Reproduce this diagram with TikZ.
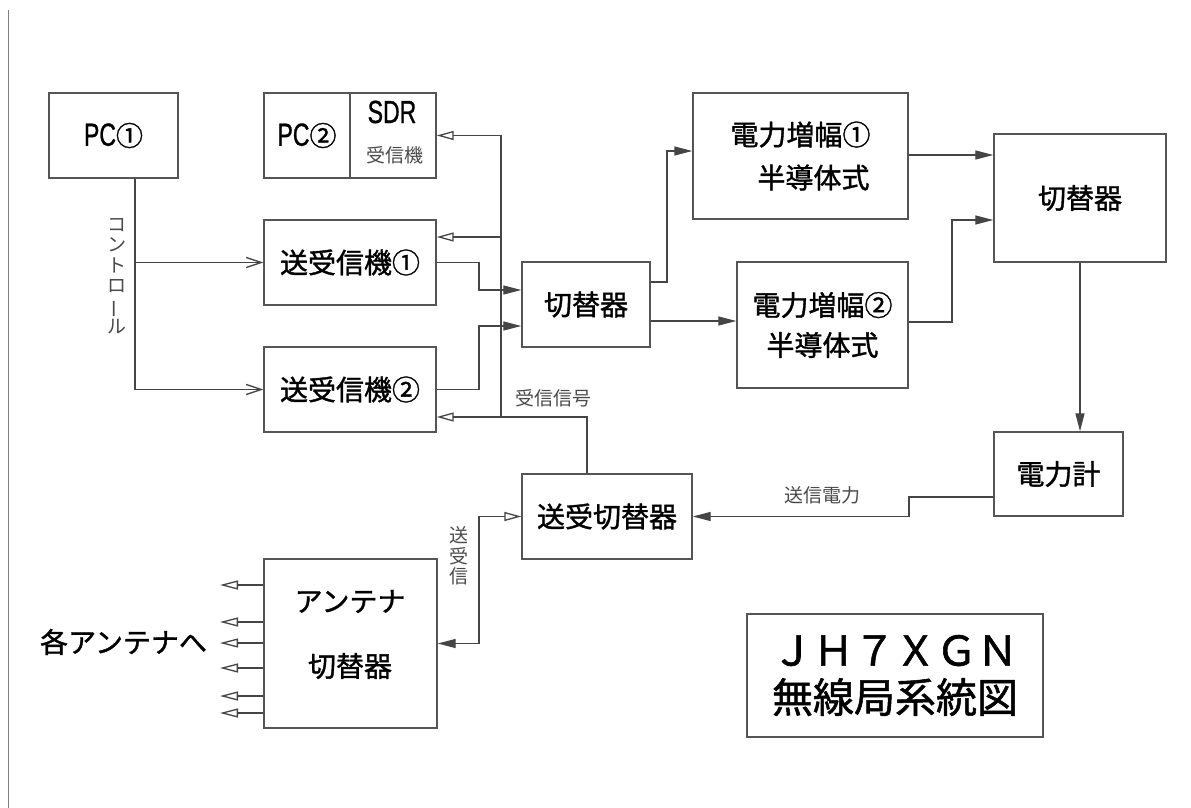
\documentclass[tikz,border=0pt]{standalone}
\usepackage{fontspec}
\setmainfont{Noto Sans CJK JP}
\newfontfamily\jpb[FakeBold=1.3]{Noto Sans CJK JP}
\newfontfamily\lat{Liberation Sans}
\newfontfamily\latb[FakeBold=1.0]{Liberation Sans}
\usetikzlibrary{arrows.meta,calc}
\definecolor{linec}{HTML}{454545}
\definecolor{boxc}{HTML}{555555}
\definecolor{lblc}{HTML}{4a4a4a}
\begin{document}
\begin{tikzpicture}[x=1pt,y=-1pt,
  box/.style 2 args={draw=boxc,line width=1.4pt,inner sep=0pt,minimum width=#1,minimum height=#2,align=center,font=\jpb\fontsize{28}{34}\selectfont},
  txt/.style={inner sep=0pt,align=center,font=\jpb\fontsize{28}{34}\selectfont},
  lbl/.style={inner sep=0pt,align=center,text=lblc,font=\fontsize{19}{20.5}\selectfont},
  ln/.style={draw=linec,line width=1.3pt},
  fa/.style={ln,-{Triangle[length=18pt,width=9pt]}},
  oa/.style={ln,-{Triangle[open,length=17pt,width=9pt]}},
  ca/.style={ln,-{Straight Barb[length=15pt,width=10pt]}},
  aa/.style={ln,-{Triangle[open,length=18pt,width=9pt]}}
]
\useasboundingbox (0,0) rectangle (1191,808);
\fill[white] (0,0) rectangle (1191,808);
\draw[draw=gray,line width=1pt] (8,10) -- (8,808);

% boxes
\node[box={129pt}{85pt}] (pc1) at (113.5,135.5) {{\latb\fontsize{32}{34}\selectfont\scalebox{0.72}[1]{PC}}{\fontsize{27}{34}\selectfont ①}};
\node[box={86pt}{85pt}] (pc2) at (307,135.5) {{\latb\fontsize{32}{34}\selectfont\scalebox{0.72}[1]{PC}}{\fontsize{27}{34}\selectfont ②}};
\node[box={86pt}{85pt}] (sdr) at (393,135.5) {};
\node[inner sep=0pt] (sdrt) at (392,112) {\latb\fontsize{32}{34}\selectfont\scalebox{0.72}[1]{SDR}};
\node[lbl,font=\fontsize{19}{22}\selectfont] (sdrr) at (395,155) {受信機};
\node[box={172pt}{85pt}] (tx1) at (350,262.5) {送受信機①};
\node[box={172pt}{85pt}] (tx2) at (350,389.5) {送受信機②};
\node[box={128pt}{85pt}] (sw) at (586,304.5) {切替器};
\node[box={215pt}{126pt}] (pa1) at (800.5,156) {電力増幅①\\[9pt]\hspace*{26pt}半導体式};
\node[box={171pt}{126pt}] (pa2) at (822.5,325) {電力増幅②\\[6pt]半導体式};
\node[box={172pt}{128pt}] (swr) at (1080,198) {切替器};
\node[box={129pt}{84pt}] (pm) at (1058.5,474) {電力計};
\node[box={170pt}{85pt}] (trsw) at (607,516.5) {送受切替器};
\node[box={173pt}{169pt}] (ant) at (350.5,643.5) {};
\node[txt] (antt) at (350,634.5) {アンテナ\\[31pt]切替器};
\node[box={296pt}{123pt},font=\jpb\fontsize{41}{41}\selectfont] (title) at (895,675.5) {ＪＨ７ＸＧＮ\\[6pt]無線局系統図};

% labels
\node[lbl] (ctl) at (117,276) {コ\\ン\\ト\\ロ\\\rotatebox[origin=c]{90}{ー}\\ル};
\node[lbl] (rxl) at (553,398) {受信信号};
\node[lbl] (txpl) at (822,495) {送信電力};
\node[lbl] (trxl) at (459,556) {送\\受\\信};
\node[txt] (each) at (123.5,642) {各アンテナへ};

% control
\coordinate (cbr) at (135,262.5);
\draw[ln] (pc1.south -| cbr) -- (cbr);
\draw[ca] (cbr) -- (tx1.west);
\draw[ca] (cbr) |- (tx2.west);

% receive bus
\coordinate (rxj) at (501,417);
\coordinate (rxu) at (587,417);
\draw[oa] (trsw.north -| rxu) -- (rxu) -- (tx2.east |- rxu);
\draw[oa] (rxj) |- (sdr.east);
\draw[oa] (rxj |- 0,237) -- (tx1.east |- 0,237);

% transmit path
\draw[fa] (tx1.east) -| (479,290) -- (sw.west |- 0,290);
\draw[fa] (tx2.east) -| (479,326) -- (sw.west |- 0,326);
\draw[fa] (sw.east |- 0,282) -| (667,151) -- (pa1.west |- 0,151);
\draw[fa] (sw.east |- 0,321) -- (pa2.west |- 0,321);
\draw[fa] (pa1.east |- 0,155) -- (swr.west |- 0,155);
\draw[fa] (pa2.east |- 0,322) -| (952,220) -- (swr.west |- 0,220);
\draw[fa] (swr.south) -- (swr.south |- pm.north);
\draw[fa] (pm.west |- 0,497) -| (909,516.5) -- (trsw.east);
\draw[ln,{Triangle[length=18pt,width=9pt]}-{Triangle[open,length=17pt,width=9pt]}] (ant.east) -| (479,516.5) -- (trsw.west);

% antenna outputs
\foreach \yy in {585,622,643,668,696,713}
  \draw[aa] (ant.west |- 0,\yy) -- (220,\yy);
\end{tikzpicture}
\end{document}
